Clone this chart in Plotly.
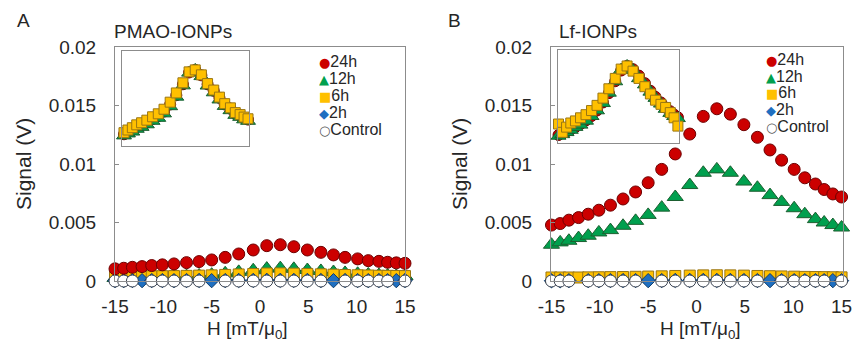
import plotly.graph_objects as go

W, H = 857, 350

# ---------------- data ----------------
field = [-15, -14.1, -13.2, -12.2, -11.2, -10.1, -8.9, -7.6, -6.3, -5.0, -3.6, -2.2, -0.7,
         0.7, 2.1, 3.5, 4.9, 6.3, 7.6, 8.8, 10.1, 11.2, 12.3, 13.2, 14.1, 15]

series_names = ["24h", "12h", "6h", "2h", "Control"]

# Panel A: PMAO-IONPs (signal in V)
pmao_24h = [0.00104, 0.00109, 0.00117, 0.00123, 0.00132, 0.00138, 0.00146, 0.00157, 0.00166, 0.0018,
            0.00202, 0.00231, 0.00265, 0.00302, 0.0031, 0.00293, 0.00265, 0.00245, 0.00223, 0.00202,
            0.00189, 0.00174, 0.00168, 0.0016, 0.00155, 0.00151]
pmao_12h = [0.00026, 0.00027, 0.00029, 0.00031, 0.00033, 0.00035, 0.00038, 0.00042, 0.00047, 0.00054,
            0.00066, 0.00078, 0.00092, 0.00106, 0.0011, 0.00104, 0.00094, 0.00086, 0.00077, 0.00069,
            0.00062, 0.00056, 0.00051, 0.00047, 0.00044, 0.00042]
pmao_6h = [0.00036, 0.00037, 0.00038, 0.00039, 0.0004, 0.00041, 0.00042, 0.00044, 0.00046, 0.00048,
           0.00052, 0.00056, 0.0006, 0.00064, 0.00065, 0.00063, 0.0006, 0.00057, 0.00054, 0.00051,
           0.00049, 0.00047, 0.00045, 0.00044, 0.00043, 0.00042]
pmao_2h = [0.00003, 0.00003, 0.00004, 0.00003, 0.00004, 0.00004, 0.00003, 0.00004, 0.00005, 0.00003,
           0.00004, 0.00005, 0.00005, 0.00006, 0.00006, 0.00005, 0.00005, 0.00004, 0.00003, 0.00004,
           0.00004, 0.00003, 0.00004, 0.00003, 0.00003, 0.00004]
pmao_ctrl = [0.0, 0.0, 0.0, None, 0.0, 0.0, 0.0, 0.0, 0.0, None, 0.0, 0.0, 0.0,
             0.0, 0.0, 0.0, 0.0, 0.0, None, 0.0, 0.0, 0.0, 0.0, 0.0, None, 0.0]

# Panel B: Lf-IONPs (signal in V)
lf_24h = [0.00478, 0.00491, 0.0052, 0.00542, 0.00571, 0.00605, 0.00648, 0.00701, 0.00761, 0.0084,
          0.00954, 0.01086, 0.01256, 0.01407, 0.01472, 0.01426, 0.01336, 0.01228, 0.0112, 0.01033,
          0.00954, 0.00882, 0.00829, 0.00782, 0.00744, 0.00718]
lf_12h = [0.0031, 0.0033, 0.00344, 0.00367, 0.00387, 0.00415, 0.00435, 0.00472, 0.00514, 0.00565,
          0.00627, 0.00718, 0.0082, 0.00925, 0.00954, 0.00925, 0.0085, 0.00797, 0.00734, 0.00676,
          0.00622, 0.00571, 0.00529, 0.005, 0.00478, 0.00457]
lf_6h = [0.0003, 0.0003, 0.0003, 0.0003, 0.00031, 0.00032, 0.00033, 0.00034, 0.00036, 0.00038,
         0.0004, 0.00043, 0.00046, 0.00048, 0.00049, 0.00048, 0.00046, 0.00043, 0.00041, 0.00039,
         0.00037, 0.00035, 0.00034, 0.00033, 0.00032, 0.00031]
lf_2h = [0.00002, 0.00002, 0.00003, None, 0.00003, 0.00003, 0.00004, 0.00004, 0.00004, 0.00003,
         0.00004, 0.00005, 0.00005, 0.00005, 0.00005, 0.00005, 0.00004, 0.00004, 0.00003, 0.00004,
         0.00003, 0.00003, 0.00003, 0.00003, 0.00003, 0.00003]
lf_ctrl = [0.0, 0.0, 0.0, None, 0.0, 0.0, 0.0, 0.0, 0.0, None, 0.0, 0.0, 0.0,
           0.0, 0.0, 0.0, 0.0, 0.0, None, 0.0, 0.0, 0.0, 0.0, 0.0, None, 0.0]

# Insets: normalised signal (signal / max)
inset_pmao_24h = [0.335, 0.352, 0.377, 0.397, 0.426, 0.445, 0.471, 0.506, 0.535, 0.581, 0.652, 0.745, 0.855,
                  0.974, 1.0, 0.945, 0.855, 0.79, 0.719, 0.652, 0.61, 0.561, 0.542, 0.516, 0.5, 0.487]
inset_pmao_12h = [0.33, 0.338, 0.358, 0.377, 0.405, 0.424, 0.45, 0.485, 0.515, 0.56, 0.632, 0.728, 0.842,
                  0.97, 1.0, 0.935, 0.84, 0.772, 0.7, 0.635, 0.592, 0.545, 0.525, 0.5, 0.485, 0.472]
inset_pmao_6h = [0.345, 0.368, 0.395, 0.418, 0.447, 0.468, 0.494, 0.528, 0.558, 0.604, 0.675, 0.768, 0.87,
                 0.98, 1.0, 0.95, 0.862, 0.797, 0.726, 0.66, 0.618, 0.57, 0.55, 0.525, 0.508, 0.494]
inset_lf_24h = [0.325, 0.334, 0.353, 0.368, 0.388, 0.411, 0.44, 0.476, 0.517, 0.571, 0.648, 0.738, 0.853,
                0.956, 1.0, 0.969, 0.907, 0.834, 0.761, 0.702, 0.648, 0.599, 0.563, 0.531, 0.505, 0.488]
inset_lf_12h = [0.31, 0.325, 0.34, 0.36, 0.382, 0.41, 0.432, 0.47, 0.515, 0.57, 0.64, 0.74, 0.85,
                0.965, 1.0, 0.96, 0.88, 0.82, 0.75, 0.69, 0.635, 0.585, 0.545, 0.515, 0.495, 0.475]
inset_lf_6h = [0.42, 0.44, 0.36, 0.41, 0.45, 0.47, 0.5, 0.53, 0.57, 0.62, 0.69, 0.78, 0.88,
               0.97, 1.0, 0.95, 0.88, 0.8, 0.73, 0.67, 0.63, 0.6, 0.55, 0.5, 0.42, 0.48]

x_ticks = [-15, -10, -5, 0, 5, 10, 15]
y_ticks = [0, 0.005, 0.01, 0.015, 0.02]
y_ticktext = ["0", "0.005", "0.01", "0.015", "0.02"]

# ---------------- styles ----------------
FONT = "Liberation Sans, Arial, sans-serif"
TXT = "#262626"
FRAME = "#8c8c8c"
STY = {
    "24h": dict(symbol="circle", color="#CC0000", line="#6e0000", size=12, glyph="●"),
    "12h": dict(symbol="triangle-up", color="#00A04E", line="#1b5e2f", size=14, glyph="▲"),
    "6h": dict(symbol="square", color="#FFC000", line="#9a7612", size=11, glyph="■"),
    "2h": dict(symbol="diamond", color="#1F6FC0", line="#0d3c6b", size=11, glyph="◆"),
    "Control": dict(symbol="circle", color="#FFFFFF", line="#3a4250", size=12, glyph="○"),
}
GLYPH_COL = {"24h": "#CC0000", "12h": "#00A04E", "6h": "#FFC000", "2h": "#1F6FC0", "Control": "#555555"}


def px_x(p):
    return p / W


def px_y(p):
    return 1 - p / H


fig = go.Figure()

panels = [
    dict(xa="x", ya="y", data={"24h": pmao_24h, "12h": pmao_12h, "6h": pmao_6h, "2h": pmao_2h, "Control": pmao_ctrl}),
    dict(xa="x2", ya="y2", data={"24h": lf_24h, "12h": lf_12h, "6h": lf_6h, "2h": lf_2h, "Control": lf_ctrl}),
]
draw_order = ["12h", "6h", "2h", "Control", "24h"]
for p in panels:
    for name in draw_order:
        s = STY[name]
        fig.add_trace(go.Scatter(
            x=field, y=p["data"][name], mode="markers", name=name, showlegend=False,
            xaxis=p["xa"], yaxis=p["ya"], cliponaxis=False,
            marker=dict(symbol=s["symbol"], size=s["size"], color=s["color"],
                        line=dict(color=s["line"], width=1)),
        ))

insets = [
    dict(xa="x3", ya="y3", data={"24h": inset_pmao_24h, "12h": inset_pmao_12h, "6h": inset_pmao_6h}),
    dict(xa="x4", ya="y4", data={"24h": inset_lf_24h, "12h": inset_lf_12h, "6h": inset_lf_6h}),
]
for p in insets:
    for name in ["24h", "12h", "6h"]:
        s = STY[name]
        fig.add_trace(go.Scatter(
            x=field, y=p["data"][name], mode="markers", name=name, showlegend=False,
            xaxis=p["xa"], yaxis=p["ya"], cliponaxis=False,
            marker=dict(symbol=s["symbol"], size=s["size"] - 1, color=s["color"],
                        line=dict(color=s["line"], width=1)),
        ))

main_y_dom = [px_y(281), px_y(47)]
axfont = dict(family=FONT, size=19, color=TXT)


def main_x(dom, rng):
    return dict(domain=dom, range=rng, showline=True, mirror=True, linecolor=FRAME, linewidth=1,
                showgrid=False, zeroline=False, ticks="", tickvals=x_ticks, automargin=False,
                ticktext=[str(v) for v in x_ticks], tickfont=axfont, ticklabelstandoff=8)


def main_y(anchor):
    return dict(domain=main_y_dom, range=[0, 0.02], showline=True, mirror=True, linecolor=FRAME,
                linewidth=1, showgrid=False, zeroline=False, ticks="inside", ticklen=4,
                tickcolor=FRAME, tickvals=y_ticks, ticktext=y_ticktext, tickfont=axfont,
                ticklabelstandoff=14, anchor=anchor, automargin=False)


def inset_ax(dom, rng, anchor):
    return dict(domain=dom, range=rng, showline=True, mirror=True, linecolor=FRAME, linewidth=1,
                showgrid=False, zeroline=False, ticks="", showticklabels=False, anchor=anchor,
                automargin=False)


fig.update_layout(
    width=W, height=H, margin=dict(l=0, r=0, t=0, b=0, autoexpand=False),
    paper_bgcolor="white", plot_bgcolor="rgba(0,0,0,0)", showlegend=False,
    font=dict(family=FONT, size=19, color=TXT),
    xaxis=main_x([px_x(115), px_x(405)], [-15, 15]) | dict(anchor="y"),
    yaxis=main_y("x"),
    xaxis2=main_x([px_x(551), px_x(843)], [-15.05, 15.15]) | dict(anchor="y2"),
    yaxis2=main_y("x2"),
    xaxis3=inset_ax([px_x(122), px_x(249)], [-14.55, 14.32], "y3"),
    yaxis3=inset_ax([px_y(146), px_y(51)], [0.234, 1.19], "x3"),
    xaxis4=inset_ax([px_x(558), px_x(679)], [-14.22, 14.36], "y4"),
    yaxis4=inset_ax([px_y(143), px_y(50)], [0.257, 1.154], "x4"),
)

ann = []


def add_text(text, x, y, size=19, xanchor="center", yanchor="middle", angle=0, color=TXT, height=None):
    a = dict(text=text, x=px_x(x), y=px_y(y), xref="paper", yref="paper", showarrow=False,
             xanchor=xanchor, yanchor=yanchor, textangle=angle,
             font=dict(family=FONT, size=size, color=color))
    if height is not None:
        a["height"] = height
    ann.append(a)


# panel letters and titles
add_text("A", 23, 20)
add_text("B", 455, 20)
add_text("PMAO-IONPs", 112, 32, xanchor="left")
add_text("Lf-IONPs", 557, 32, xanchor="left")
# axis titles
for cx in (23, 459):
    add_text("Signal (V)", cx, 164, size=21, angle=-90)
add_text("H [mT/μ<sub>0</sub>]", 247, 330)
add_text("H [mT/μ<sub>0</sub>]", 700, 330)

# legends (symbol + label in one text)
legend_rows = {
    "A": dict(x=317, ys=[61, 78, 95, 112, 129]),
    "B": dict(x=764, ys=[59, 76, 92, 109, 126]),
}
for key, L in legend_rows.items():
    for name, y in zip(series_names, L["ys"]):
        txt = (f'<span style="color:{GLYPH_COL[name]};font-size:13px;font-family:DejaVu Sans">'
               f'{STY[name]["glyph"]}</span>{name}')
        add_text(txt, L["x"], y, size=16, xanchor="left", height=16)

fig.update_layout(annotations=ann)
fig.write_html("out.html", post_script="document.body.style.margin='0';",
               config={"displayModeBar": False})
